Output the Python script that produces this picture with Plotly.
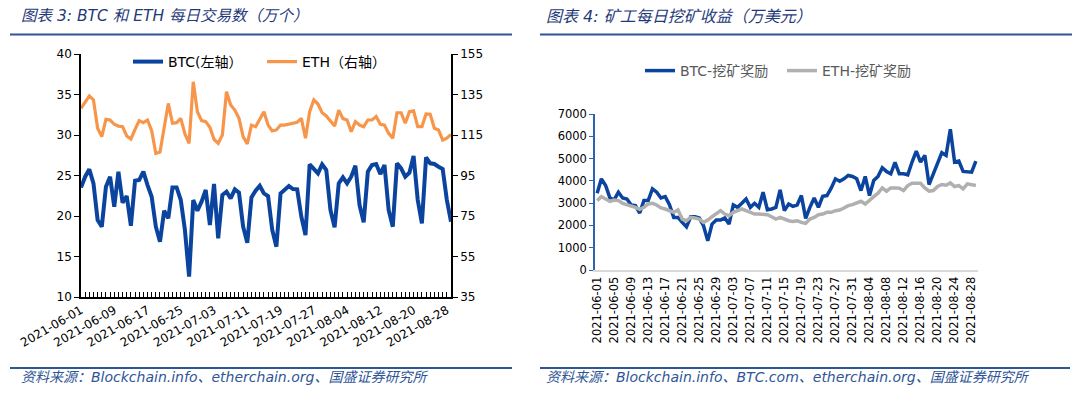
import plotly.graph_objects as go
import pandas as pd

# ---------------- data ----------------
dates = pd.date_range("2021-06-01", periods=90, freq="D")

btc_tx = [23.53, 24.85, 25.76, 24.03, 19.50, 18.68, 23.62, 24.85, 21.15, 25.47,
          21.64, 22.46, 18.80, 24.36, 24.44, 25.47, 23.82, 22.38, 18.68, 16.83,
          20.65, 19.71, 23.53, 23.53, 21.97, 18.27, 12.51, 21.97, 20.65, 21.77,
          23.21, 18.88, 23.95, 17.24, 22.59, 23.00, 22.18, 23.29, 22.88, 18.68,
          16.70, 22.30, 23.12, 23.74, 22.79, 22.46, 18.27, 16.21, 22.79, 23.21,
          23.70, 23.33, 23.29, 19.91, 17.65, 26.37, 25.88, 25.26, 26.37, 25.67,
          20.74, 18.60, 24.03, 24.77, 24.03, 24.85, 26.21, 21.35, 19.21, 25.47,
          26.29, 26.42, 25.18, 26.29, 20.74, 18.68, 26.50, 25.88, 24.85, 25.35,
          27.40, 21.97, 19.09, 27.24, 26.50, 26.42, 26.09, 25.80, 21.97, 19.30]

eth_tx = [128.2, 131.5, 134.3, 132.3, 118.3, 114.2, 122.7, 122.4, 120.3, 119.4,
          119.1, 114.5, 113.0, 117.8, 122.1, 121.1, 122.4, 117.1, 105.9, 106.6,
          119.9, 130.6, 120.8, 121.1, 123.2, 115.5, 110.9, 141.3, 126.5, 122.1,
          121.6, 118.8, 112.9, 110.9, 115.0, 136.4, 129.8, 127.3, 123.2, 114.2,
          110.6, 119.9, 119.1, 122.7, 126.5, 119.9, 117.0, 117.5, 119.9, 119.9,
          120.3, 121.1, 121.3, 123.2, 113.4, 126.5, 132.3, 130.3, 126.0, 124.4,
          121.6, 119.4, 127.3, 123.1, 122.4, 116.6, 121.6, 119.9, 119.1, 122.4,
          122.4, 124.1, 120.3, 119.9, 115.8, 113.4, 126.0, 126.0, 120.8, 126.5,
          126.9, 119.1, 119.1, 125.4, 125.2, 118.3, 117.5, 112.5, 113.4, 115.3]

btc_reward = [3444, 4091, 3790, 3234, 3143, 3489, 3234, 3188, 2918, 2888,
              2557, 3113, 3113, 3640, 3489, 3234, 3294, 2933, 2361, 2361,
              2136, 1940, 2391, 2391, 2331, 1985, 1308, 2060, 2241, 2241,
              2331, 2060, 2918, 2812, 2993, 3188, 2812, 2993, 2812, 3489,
              2707, 2737, 2812, 3595, 2662, 2963, 2858, 2918, 3339, 2316,
              2812, 3234, 2812, 3309, 3339, 3670, 4091, 3986, 4091, 4241,
              4196, 4091, 3564, 4196, 3339, 4016, 4196, 4587, 4422, 4317,
              4828, 4317, 4317, 4271, 4843, 5339, 4843, 5144, 3835, 4317,
              4813, 5264, 5144, 6317, 4843, 4888, 4422, 4392, 4392, 4888]

eth_reward = [3113, 3294, 3188, 3083, 3143, 3113, 2993, 2933, 2888, 2812,
              2722, 2812, 2963, 2993, 2918, 2782, 2737, 2662, 2587, 2692,
              2286, 2211, 2361, 2331, 2286, 2136, 2241, 2391, 2512, 2662,
              2512, 2436, 2587, 2662, 2737, 2662, 2587, 2512, 2512, 2482,
              2482, 2391, 2286, 2361, 2286, 2211, 2181, 2211, 2136, 2091,
              2286, 2361, 2482, 2512, 2587, 2587, 2662, 2692, 2782, 2888,
              2933, 2993, 3083, 2963, 3143, 3294, 3444, 3685, 3534, 3685,
              3685, 3670, 3564, 3790, 3895, 3895, 3895, 3685, 3534, 3564,
              3745, 3835, 3805, 3910, 3745, 3790, 3640, 3865, 3820, 3790]

left_names = ["BTC(左轴）", "ETH（右轴）"]
right_names = ["BTC-挖矿奖励", "ETH-挖矿奖励"]
title_left = "图表 3: BTC 和 ETH 每日交易数（万个）"
title_right = "图表 4: 矿工每日挖矿收益（万美元）"
source_left = "资料来源：Blockchain.info、etherchain.org、国盛证券研究所"
source_right = "资料来源：Blockchain.info、BTC.com、etherchain.org、国盛证券研究所"

# ---------------- style ----------------
PAGE_W, PAGE_H, BODY = 1080, 394, 8     # html body has an 8px margin
W, H = PAGE_W - 2 * BODY, PAGE_H - 2 * BODY
FONT = "DejaVu Sans, Noto Sans CJK SC, sans-serif"
BLUE = "#0b449e"
ORANGE = "#f7964a"
GRAY = "#b0b0b0"
NAVY = "#1f3a7a"
RULE = "#2f5597"


def fx(p):
    return (p - BODY) / W


def fy(p):
    return 1 - (p - BODY) / H


fig = go.Figure()
fig.add_trace(go.Scatter(x=dates, y=btc_tx, name=left_names[0], mode="lines",
                         line=dict(color=BLUE, width=4), xaxis="x", yaxis="y",
                         legend="legend"))
fig.add_trace(go.Scatter(x=dates, y=eth_tx, name=left_names[1], mode="lines",
                         line=dict(color=ORANGE, width=3.2), xaxis="x", yaxis="y2",
                         legend="legend"))
fig.add_trace(go.Scatter(x=dates, y=btc_reward, name=right_names[0], mode="lines",
                         line=dict(color=BLUE, width=3.5), xaxis="x2", yaxis="y3",
                         legend="legend2"))
fig.add_trace(go.Scatter(x=dates, y=eth_reward, name=right_names[1], mode="lines",
                         line=dict(color=GRAY, width=3.5), xaxis="x2", yaxis="y3",
                         legend="legend2"))

DAY = 86400000
fig.update_layout(
    width=W, height=H, margin=dict(l=0, r=0, t=0, b=0, autoexpand=False),
    paper_bgcolor="white", plot_bgcolor="white",
    font=dict(family=FONT, color="black", size=12),
    xaxis=dict(domain=[fx(81), fx(451)], anchor="y", type="date", automargin=False,
               range=["2021-06-01", "2021-08-29"], tick0="2021-06-01",
               dtick=8 * DAY, tickformat="%Y-%m-%d", tickangle=-30,
               ticks="inside", ticklen=5, tickcolor="black",
               minor=dict(ticks="inside", dtick=DAY, ticklen=5, tickcolor="black",
                          showgrid=False),
               showline=True, linecolor="black", linewidth=1.5, showgrid=False,
               tickfont=dict(size=12, family=FONT)),
    yaxis=dict(domain=[fy(297), fy(54)], anchor="x", range=[10, 40], dtick=5,
               automargin=False,
               ticks="outside", ticklen=5, tickcolor="black",
               showline=True, linecolor="black", linewidth=1.5,
               showgrid=False, zeroline=False, tickfont=dict(size=12, family=FONT)),
    yaxis2=dict(overlaying="y", anchor="x", side="right", range=[35, 155],
                tick0=35, dtick=20, automargin=False,
                ticks="outside", ticklen=5, tickcolor="black",
                showline=True, linecolor="black", linewidth=1.5,
                showgrid=False, zeroline=False, tickfont=dict(size=12, family=FONT)),
    xaxis2=dict(domain=[fx(595), fx(978)], anchor="y3", type="date", automargin=False,
                range=["2021-05-31 12:00", "2021-08-29 12:00"],
                tickvals=list(dates[::4]), tickformat="%Y-%m-%d", tickangle=-90,
                ticks="", showline=True, linecolor="#d9d9d9", linewidth=2,
                showgrid=False, tickfont=dict(size=11.5, family=FONT)),
    yaxis3=dict(domain=[fy(270), fy(114)], anchor="x2", range=[0, 7000], dtick=1000,
                automargin=False,
                ticks="outside", ticklen=4, tickcolor="#2f62b5",
                showline=True, linecolor="#2f62b5", linewidth=1.5,
                showgrid=False, zeroline=False, tickfont=dict(size=11.5, family=FONT)),
    legend=dict(orientation="h", x=fx(128), y=fy(62), xanchor="left", yanchor="middle",
                bgcolor="rgba(0,0,0,0)", font=dict(size=14, family=FONT, color="black"),
                itemwidth=30, entrywidth=89, entrywidthmode="pixels"),
    legend2=dict(orientation="h", x=fx(640), y=fy(71), xanchor="left", yanchor="middle",
                 bgcolor="rgba(0,0,0,0)", font=dict(size=14, family=FONT, color="#595959"),
                 itemwidth=30, entrywidth=97, entrywidthmode="pixels"),
)

# titles & sources
for txt, x0, y0, col, size in [
    (title_left, 20, 16, NAVY, 15.5),
    (title_right, 545, 16, NAVY, 16),
    (source_left, 20, 377, RULE, 14),
    (source_right, 545, 377, RULE, 14),
]:
    fig.add_annotation(text="<i>" + txt + "</i>", x=fx(x0), y=fy(y0), xref="paper",
                       yref="paper", xanchor="left", yanchor="middle", showarrow=False,
                       borderpad=0, font=dict(size=size, color=col, family=FONT))

for x0, x1, y0, w in [(10, 512, 34.5, 2), (540, 1072, 34.5, 2),
                      (10, 512, 368, 2), (540, 1070, 368, 2)]:
    fig.add_shape(type="line", xref="paper", yref="paper", x0=fx(x0), x1=fx(x1),
                  y0=fy(y0), y1=fy(y0), line=dict(color=RULE, width=w))

fig.write_html("out.html")
